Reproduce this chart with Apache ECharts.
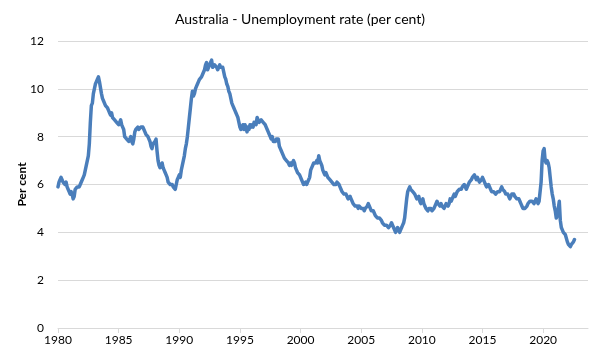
<!DOCTYPE html>
<html>
<head>
<meta charset="utf-8">
<script src="https://cdn.jsdelivr.net/npm/echarts@6/dist/echarts.min.js"></script>
<style>
  html, body { margin: 0; padding: 0; background: #fff; }
  #chart { width: 600px; height: 360px; }
</style>
</head>
<body>
<div id="chart"></div>
<script>
const chartTitle = "Australia - Unemployment rate (per cent)";
const yAxisName = "Per cent";
const startYear = 1980;
const xTickYears = [1980, 1985, 1990, 1995, 2000, 2005, 2010, 2015, 2020];
const yTicks = [0, 2, 4, 6, 8, 10, 12];

// Monthly unemployment rate (per cent), from January 1980
const rate1980s = [
  5.9, 6.1, 6.2, 6.3, 6.2, 6.1, 6.1, 6.0, 6.1, 5.9, 5.8, 5.7,
  5.6, 5.7, 5.6, 5.4, 5.5, 5.8, 5.8, 5.9, 5.9, 5.9, 6.0, 6.0,
  6.2, 6.3, 6.4, 6.6, 6.8, 7.0, 7.2, 7.7, 8.6, 9.3, 9.4, 9.8,
  10.0, 10.2, 10.3, 10.4, 10.5, 10.3, 10.3, 9.8, 9.6, 9.5, 9.5, 9.3,
  9.3, 9.2, 9.1, 9.0, 8.9, 9.0, 8.8, 8.8, 8.7, 8.7, 8.6, 8.6,
  8.5, 8.6, 8.7, 8.5, 8.4, 8.3, 8.0, 8.0, 7.9, 7.9, 7.8, 7.9,
  8.0, 7.8, 7.7, 7.9, 8.2, 8.3, 8.3, 8.4, 8.3, 8.3, 8.4, 8.4,
  8.4, 8.3, 8.2, 8.1, 8.1, 8.0, 7.9, 7.8, 7.6, 7.5, 7.7, 7.7,
  7.8, 7.9, 7.4, 7.0, 6.8, 6.7, 6.8, 6.9, 6.7, 6.6, 6.5, 6.4,
  6.3, 6.1, 6.1, 6.0, 6.0, 6.0, 5.9, 5.9, 5.8, 6.0, 6.2, 6.3
];
const rate1990s = [
  6.4, 6.3, 6.6, 6.8, 7.0, 7.2, 7.5, 7.7, 8.0, 8.4, 8.8, 9.2,
  9.6, 9.9, 9.7, 9.8, 10.0, 10.1, 10.2, 10.3, 10.4, 10.4, 10.5, 10.6,
  10.6, 10.8, 11.0, 11.1, 10.8, 10.8, 11.0, 11.1, 11.2, 10.9, 10.9, 11.0,
  11.0, 10.9, 10.8, 10.9, 11.0, 10.9, 10.9, 10.9, 10.7, 10.5, 10.4, 10.2,
  10.1, 9.9, 9.8, 9.6, 9.4, 9.3, 9.2, 9.1, 9.0, 8.9, 8.8, 8.6,
  8.4, 8.3, 8.4, 8.5, 8.3, 8.5, 8.4, 8.2, 8.4, 8.3, 8.5, 8.4,
  8.5, 8.4, 8.6, 8.6, 8.5, 8.8, 8.7, 8.6, 8.6, 8.7, 8.7, 8.6,
  8.6, 8.5, 8.4, 8.3, 8.2, 8.1, 8.0, 7.9, 8.0, 7.8, 7.8, 7.8,
  7.9, 7.9, 7.9, 7.6, 7.5, 7.4, 7.3, 7.3, 7.1, 7.1, 7.0, 7.0,
  6.9, 6.8, 6.9, 6.8, 6.9, 7.0, 6.9, 6.7, 6.6, 6.5, 6.5, 6.4
];
const rate2000s = [
  6.4, 6.2, 6.1, 6.0, 6.0, 6.1, 6.0, 6.1, 6.2, 6.3, 6.6, 6.6,
  6.8, 6.9, 6.9, 6.9, 7.0, 6.9, 7.2, 7.0, 6.9, 6.8, 6.6, 6.5,
  6.4, 6.5, 6.4, 6.3, 6.3, 6.2, 6.2, 6.1, 6.1, 6.0, 6.0, 6.0,
  6.1, 6.1, 6.0, 5.9, 5.8, 5.7, 5.7, 5.6, 5.6, 5.6, 5.5, 5.4,
  5.4, 5.5, 5.4, 5.3, 5.2, 5.2, 5.1, 5.1, 5.1, 5.0, 5.1, 5.1,
  5.0, 5.0, 5.0, 4.9, 5.0, 5.0, 5.1, 5.2, 5.1, 5.0, 4.9, 4.9,
  4.9, 4.8, 4.7, 4.7, 4.6, 4.6, 4.6, 4.6, 4.5, 4.4, 4.4, 4.3,
  4.3, 4.3, 4.3, 4.2, 4.2, 4.3, 4.4, 4.3, 4.2, 4.1, 4.0, 4.1,
  4.2, 4.1, 4.0, 4.1, 4.2, 4.3, 4.4, 4.6, 5.0, 5.4, 5.7, 5.8,
  5.9, 5.8, 5.8, 5.7, 5.7, 5.6, 5.6, 5.4, 5.4, 5.5, 5.3, 5.2
];
const rate2010s = [
  5.3, 5.4, 5.2, 5.1, 5.0, 5.0, 4.9, 5.0, 5.0, 5.0, 4.9, 4.9,
  5.0, 5.0, 5.2, 5.3, 5.2, 5.2, 5.1, 5.2, 5.1, 5.1, 5.0, 5.1,
  5.2, 5.2, 5.1, 5.2, 5.4, 5.3, 5.4, 5.5, 5.6, 5.5, 5.6, 5.7,
  5.7, 5.8, 5.8, 5.8, 5.9, 5.9, 6.0, 5.9, 5.8, 5.9, 6.0, 6.1,
  6.1, 6.2, 6.3, 6.3, 6.4, 6.3, 6.2, 6.3, 6.2, 6.1, 6.1, 6.2,
  6.3, 6.2, 6.1, 6.0, 5.9, 5.9, 6.0, 5.9, 5.8, 5.7, 5.7, 5.7,
  5.7, 5.6, 5.6, 5.7, 5.7, 5.7, 5.8, 5.9, 5.8, 5.8, 5.7, 5.6,
  5.6, 5.6, 5.5, 5.4, 5.5, 5.6, 5.6, 5.6, 5.5, 5.5, 5.4, 5.4,
  5.4, 5.3, 5.2, 5.1, 5.0, 5.0, 5.0, 5.0, 5.1, 5.2, 5.2, 5.3,
  5.3, 5.3, 5.3, 5.2, 5.3, 5.4, 5.3, 5.2, 5.3, 5.3, 6.1, 7.0
];
const rate2020s = [
  7.4, 7.5, 7.0, 6.9, 7.0, 6.9, 6.7, 6.3, 5.9, 5.6, 5.4, 5.1,
  4.9, 4.6, 4.7, 5.0, 5.3, 4.5, 4.2, 4.1, 4.0, 4.0, 3.9, 3.9,
  3.6, 3.5, 3.5, 3.4, 3.5, 3.5, 3.6, 3.7
];

const rates = [].concat(rate1980s, rate1990s, rate2000s, rate2010s, rate2020s);
const seriesData = rates.map((v, i) => [startYear + i / 12, v]);

const chart = echarts.init(document.getElementById('chart'), null, { renderer: 'canvas' });
const gridColor = '#d9d9d9';
const fontFamily = 'Lato, "Open Sans", "Noto Sans", sans-serif';

chart.setOption({
  animation: false,
  backgroundColor: '#ffffff',
  title: {
    text: chartTitle,
    left: 'center',
    top: 7,
    textStyle: { fontFamily: fontFamily, fontSize: 14, fontWeight: 'normal', color: '#000000' }
  },
  grid: { left: 58, right: 12, top: 41, bottom: 32, containLabel: false },
  xAxis: {
    type: 'value',
    min: 1980,
    max: 2023.7,
    interval: 5,
    splitLine: { show: false },
    axisLine: { show: true, lineStyle: { color: gridColor, width: 1 } },
    axisTick: { show: true, length: 5, lineStyle: { color: gridColor }, customValues: xTickYears },
    axisLabel: {
      customValues: xTickYears,
      formatter: (v) => String(Math.round(v)),
      color: '#000000',
      fontFamily: fontFamily,
      fontSize: 12,
      margin: 6
    }
  },
  yAxis: {
    type: 'value',
    min: 0,
    max: 12,
    interval: 2,
    name: yAxisName,
    nameLocation: 'middle',
    nameGap: 30,
    nameMoveOverlap: false,
    nameRotate: 90,
    nameTextStyle: { fontFamily: fontFamily, fontSize: 12, fontWeight: 'bold', color: '#000000' },
    axisLine: { show: false },
    axisTick: { show: false },
    splitLine: { show: true, lineStyle: { color: gridColor, width: 1 } },
    axisLabel: {
      customValues: yTicks,
      color: '#000000',
      fontFamily: fontFamily,
      fontSize: 12,
      margin: 14
    }
  },
  series: [{
    type: 'line',
    data: seriesData,
    showSymbol: false,
    symbol: 'none',
    smooth: false,
    lineStyle: { color: '#4a7ebb', width: 3.5, join: 'round', cap: 'round' },
    itemStyle: { color: '#4a7ebb' }
  }]
});
</script>
</body>
</html>
